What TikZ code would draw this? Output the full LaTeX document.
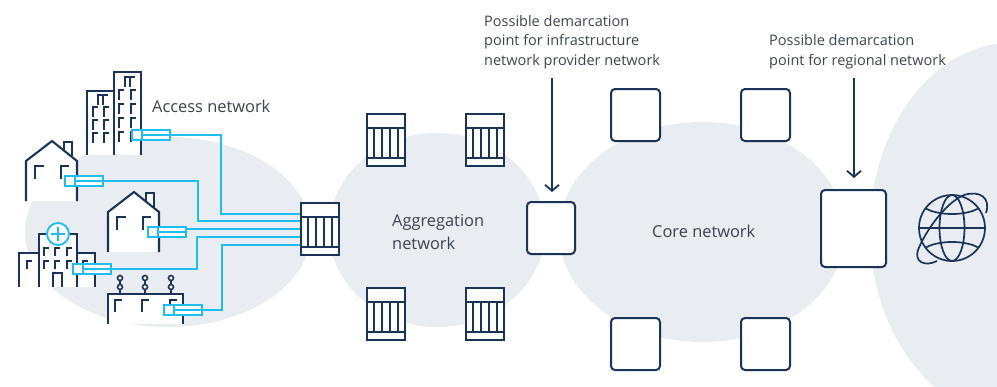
\documentclass[tikz,border=0pt]{standalone}
\usepackage{fontspec}
\setmainfont{Open Sans}
\usepackage{xcolor}
\usetikzlibrary{arrows.meta}
\definecolor{navy}{HTML}{1B3358}
\definecolor{sky}{HTML}{1FBDF0}
\definecolor{cloud}{HTML}{E9ECF0}
\definecolor{ink}{HTML}{3C4350}
\tikzstyle{rack} = [draw = navy, fill = white, line width = 2.2, minimum width = 38, minimum height = 52, inner sep = 0, outer sep = 0]
\tikzstyle{router} = [draw = navy, fill = white, line width = 2, rounded corners = 4, inner sep = 0, outer sep = 0]
\tikzstyle{modem} = [draw = sky, fill = white, line width = 1.9, minimum width = 38, minimum height = 10, inner sep = 0, outer sep = 0]
\tikzstyle{wall} = [draw = navy, line width = 2.1]
\tikzstyle{fibre} = [draw = sky, line width = 1.6]
\tikzstyle{demarc} = [draw = navy, line width = 1.8, -{Straight Barb[length = 6, width = 14]}]
\tikzstyle{caption} = [text = ink, font = \fontsize{14.5}{19.5}\selectfont, align = left, anchor = west, inner sep = 0]
\tikzstyle{netname} = [text = ink, font = \fontsize{16.4}{23}\selectfont, align = left, anchor = west, inner sep = 0]

\newcommand{\win}[2]{\draw[wall] (#1, #2 + 12) |- (#1 + 7, #2) ;}
\newcommand{\rackicon}[3]{
	\node[rack] (#1) at (#2, #3) {} ;
	\draw[wall] (#2 - 19, #3 - 12) -- (#2 + 19, #3 - 12) ;
	\draw[wall] (#2 - 19, #3 + 18) -- (#2 + 19, #3 + 18) ;
	\foreach \v in {-12, -4, 4, 12}
	{
		\draw[wall] (#2 + \v, #3 - 12) -- (#2 + \v, #3 + 18) ;
	}
}
\newcommand{\modemicon}[3]{
	\node[modem] (#1) at (#2, #3) {} ;
	\draw[fibre, line width = 1.9] (#2 - 9, #3 - 5) -- (#2 - 9, #3 + 5) ;
	\draw[fibre] (#2 - 9, #3) -- (#2 + 19, #3) ;
}
\tikzset{
	house/.pic = {
		\fill[white] (26, 201) -- (26, 161) -- (52, 141) -- (64, 150) -- (64, 142) -- (72, 142) -- (72, 157) -- (77, 161) -- (77, 201) -- cycle ;
		\draw[wall] (26, 201) -- (26, 161) -- (52, 141) -- (77, 161) -- (77, 201) ;
		\draw[wall] (64, 151) -- (64, 142) -- (72, 142) -- (72, 156) ;
		\draw[wall] (35, 179) |- (44, 166) ;
		\draw[wall] (61, 179) |- (69, 166) ;
	}
}

\begin{document}
\begin{tikzpicture}[x = 1pt, y = -1pt]
	\clip (0, 0) rectangle (997, 386) ;

	\fill[cloud] (168, 232) ellipse [x radius = 143, y radius = 95] ;
	\fill[cloud] (437, 230) ellipse [x radius = 108, y radius = 97] ;
	\fill[cloud] (702, 232) ellipse [x radius = 143, y radius = 110] ;
	\fill[cloud] (1012, 230) ellipse [x radius = 142, y radius = 187] ;

	\coordinate (P1) at (301, 214) ;
	\coordinate (P2) at (301, 221) ;
	\coordinate (P3) at (301, 229) ;
	\coordinate (P4) at (301, 237) ;
	\coordinate (P5) at (301, 245) ;
	\coordinate (Q3) at (186, 229) ;

	\fill[white] (87, 155) rectangle (141, 91) ;
	\fill[white] (114, 91) rectangle (141, 72) ;
	\draw[wall] (87, 155) |- (114, 91) ;
	\draw[wall] (114, 155) |- (141, 72) -- (141, 155) ;
	\foreach \x / \y in {125/77, 119/90, 131/90, 119/104, 131/104, 119/118, 131/118, 119/132, 131/132, 98/95, 93/107, 104/107, 93/120, 104/120, 93/133, 104/133}
	{
		\draw[wall] (\x, \y + 10) |- (\x + 5, \y) ;
	}
	\draw[wall] (130, 87) |- (135, 77) ;
	\draw[wall] (103, 105) |- (108, 95) ;

	\pic at (0, 0) {house} ;
	\pic at (82, 51) {house} ;

	\fill[white] (19, 287) -- (19, 253) -- (39, 253) -- (39, 234) -- (77, 234) -- (77, 253) -- (95, 253) -- (95, 287) -- cycle ;
	\draw[wall] (19, 287) |- (39, 253) ;
	\draw[wall] (39, 287) |- (77, 234) -- (77, 287) ;
	\draw[wall] (77, 253) -| (95, 287) ;
	\foreach \x / \y in {44/248, 55/248, 67/248, 44/261, 55/261, 67/261, 27/261, 83/261}
	{
		\draw[wall] (\x, \y + 8) |- (\x + 5, \y) ;
	}
	\draw[wall] (53, 287) |- (62, 273) -- (62, 287) ;
	\draw[draw = sky, fill = white, line width = 1.9] (58, 234) circle (11) ;
	\draw[draw = sky, line width = 1.9] (51, 234) -- (65, 234) ;
	\draw[draw = sky, line width = 1.9] (58, 227) -- (58, 241) ;

	\fill[white] (108, 324) rectangle (183, 294) ;
	\draw[wall] (108, 324) |- (183, 294) -- (183, 324) ;
	\foreach \x in {115, 142, 170}
	{
		\win{\x}{300}
	}
	\foreach \x in {120, 145, 171}
	{
		\draw[navy, line width = 1.8] (\x, 281) -- (\x, 294) ;
		\draw[navy, line width = 1.6, fill = white] (\x, 278) circle (2.5) ;
		\draw[navy, line width = 1.6, fill = white] (\x, 287) circle (2.5) ;
	}

	\modemicon{M1}{151}{135}
	\modemicon{M2}{84}{181}
	\modemicon{M3}{167}{232}
	\modemicon{M4}{92}{269}
	\modemicon{M5}{183}{310}

	\draw[fibre] (M1.east) -- (221, 135) -- (221, 214) -- (P1) ;
	\draw[fibre] (M2.east) -- (198, 181) -- (198, 221) -- (P2) ;
	\draw[fibre] (Q3) -- (P3) ;
	\draw[fibre] (M4.east) -- (197, 269) -- (197, 237) -- (P4) ;
	\draw[fibre] (M5.east) -- (222, 310) -- (222, 245) -- (P5) ;

	\rackicon{R0}{320}{229}
	\rackicon{R1}{386}{140}
	\rackicon{R2}{485}{140}
	\rackicon{R3}{386}{314}
	\rackicon{R4}{485}{314}

	\node[router, minimum width = 48, minimum height = 52] (E) at (551, 228) {} ;
	\node[router, minimum width = 49, minimum height = 52] (C1) at (635.5, 115) {} ;
	\node[router, minimum width = 49, minimum height = 52] (C2) at (765.5, 115) {} ;
	\node[router, minimum width = 49, minimum height = 52] (C3) at (635.5, 344) {} ;
	\node[router, minimum width = 49, minimum height = 52] (C4) at (765.5, 344) {} ;
	\node[router, minimum width = 65, minimum height = 77] (F) at (853.5, 228.5) {} ;

	\coordinate (A1) at (552, 78) ;
	\coordinate (A2) at (854, 78) ;
	\draw[demarc] (A1) -- (552, 192) ;
	\draw[demarc] (A2) -- (854, 178) ;

	\node[netname] (access) at (152, 106) {Access network} ;
	\node[netname] (aggregation) at (392, 232) {Aggregation\\network} ;
	\node[netname] (core) at (652, 231) {Core network} ;
	\node[caption] (infra) at (484, 42) {Possible demarcation\\point for infrastructure\\network provider network} ;
	\node[caption] (regional) at (769, 51.5) {Possible demarcation\\point for regional network} ;

	\draw[wall, line width = 1.7] (952, 228) circle (33) ;
	\draw[wall, line width = 1.7] (952, 228) ellipse [x radius = 12.5, y radius = 33] ;
	\draw[wall, line width = 1.7] (919, 228) -- (985, 228) ;
	\draw[wall, line width = 1.7] (925, 208) .. controls (938, 216) and (966, 216) .. (979, 208) ;
	\draw[wall, line width = 1.7] (925, 248) .. controls (938, 240) and (966, 240) .. (979, 248) ;
	\draw[wall, line width = 1.7] (986, 213) .. controls (991, 198) and (980, 190) .. (964, 195) .. controls (945, 203) and (925, 232) .. (918, 250) .. controls (914, 262) and (925, 267) .. (937, 261) ;
\end{tikzpicture}
\end{document}
